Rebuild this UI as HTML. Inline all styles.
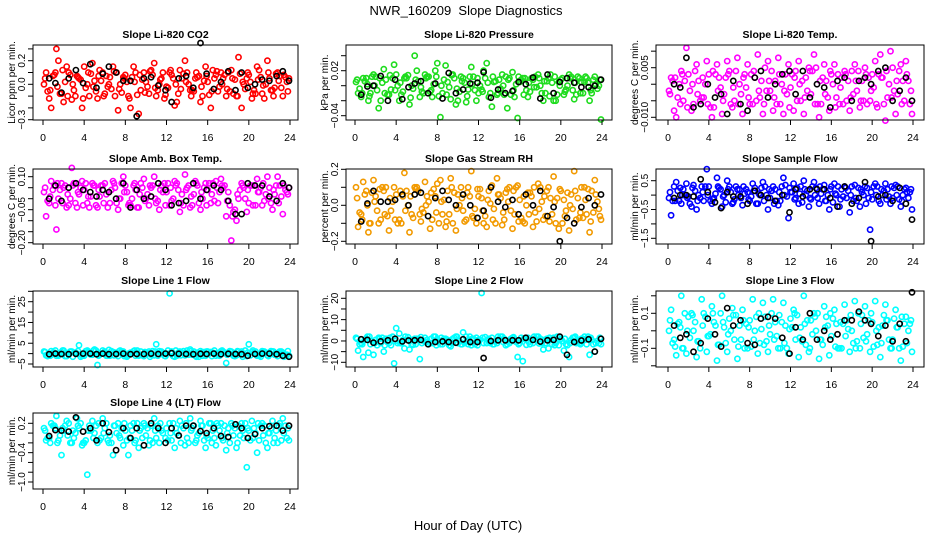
<!DOCTYPE html>
<html><head><meta charset="utf-8"><style>
html,body{margin:0;padding:0;background:#fff;}
svg{display:block;font-family:"Liberation Sans",sans-serif;}
</style></head><body>
<svg id="chart" width="936" height="540" viewBox="0 0 936 540" xmlns="http://www.w3.org/2000/svg">
<text x="466" y="15" text-anchor="middle" font-size="13" xml:space="preserve">NWR_160209  Slope Diagnostics</text>
<text x="468" y="530" text-anchor="middle" font-size="13">Hour of Day (UTC)</text>
</svg>
<script>
// shared hour-of-day sample times
const timesA = [0.1,0.6,1.1,1.5,2.0,2.5,3.0,3.5,4.0,4.5,5.0,5.5,6.0,6.5,7.0,7.5,8.0,8.5,9.0,9.5,10.0,10.5,11.0,11.5,12.0,12.5,13.0,13.5,14.0,14.5,15.0,15.5,16.0,16.5,17.0,17.5,18.0,18.5,19.0,19.5,20.0,20.5,21.0,21.5,22.0,22.5,23.0,23.7];
const timesB = [0.3,0.8,1.3,1.8,2.3,2.8,3.3,3.8,4.3,4.8,5.3,5.8,6.3,6.8,7.3,7.8,8.3,8.8,9.3,9.8,10.3,10.8,11.3,11.8,12.3,12.8,13.3,13.8,14.3,14.8,15.3,15.8,16.3,16.8,17.3,17.8,18.3,18.8,19.3,19.8,20.3,20.8,21.3,21.8,22.3,22.8,23.3,23.9];
const timesC = [0.2,0.7,1.2,1.65,2.15,2.65,3.15,3.65,4.15,4.65,5.15,5.65,6.15,6.65,7.15,7.65,8.15,8.65,9.15,9.65,10.15,10.65,11.15,11.65,12.15,12.65,13.15,13.65,14.15,14.65,15.15,15.65,16.15,16.65,17.15,17.65,18.15,18.65,19.15,19.65,20.15,20.65,21.15,21.65,22.15,22.65,23.15,23.55];
const timesD = [0.45,0.95,1.4,1.9,2.4,2.9,3.4,3.9,4.4,4.9,5.4,5.9,6.4,6.9,7.4,7.9,8.4,8.9,9.4,9.9,10.4,10.9,11.4,11.9,12.4,12.9,13.4,13.9,14.4,14.9,15.4,15.9,16.4,16.9,17.4,17.9,18.4,18.9,19.4,19.9,20.4,20.9,21.4,21.9,22.4,22.9,23.4,23.8];
const timesK = [0.6,1.2,1.8,2.5,3.2,3.9,4.6,5.2,5.8,6.4,7.1,7.8,8.5,9.1,9.8,10.5,11.2,11.9,12.5,13.2,13.9,14.6,15.3,15.9,16.6,17.3,18.0,18.7,19.3,19.9,20.6,21.3,22.0,22.7,23.3,23.9];
const xTicks = [0,4,8,12,16,20,24];

const co2A = [0.0,-0.12,0.08,0.2,-0.15,0.1,-0.05,0.05,0.15,-0.1,0.03,0.12,-0.08,0.06,-0.1,0.0,0.08,-0.2,0.1,-0.05,0.02,0.12,-0.1,0.05,-0.02,0.08,-0.15,0.05,0.1,-0.05,0.06,-0.1,0.02,0.12,-0.06,0.05,0.1,-0.08,0.23,0.0,0.08,-0.05,0.12,-0.12,0.05,-0.03,0.07,0.02];
const co2B = [0.1,-0.2,0.3,-0.08,0.15,-0.13,0.07,-0.2,0.0,0.18,-0.12,0.1,-0.02,0.15,-0.22,0.06,-0.1,0.15,-0.25,0.1,-0.08,0.18,0.0,-0.12,0.1,-0.18,0.12,0.2,-0.05,0.05,-0.15,0.15,-0.2,0.08,0.1,-0.1,0.12,-0.1,-0.2,0.05,-0.12,0.15,-0.08,0.2,-0.05,0.1,-0.1,0.05];
const co2C = [0.05,-0.05,0.1,-0.08,0.02,0.08,-0.1,0.04,-0.03,0.09,-0.06,0.03,0.07,-0.04,0.1,-0.07,0.02,0.06,-0.09,0.04,-0.02,0.08,-0.05,0.1,-0.03,0.05,-0.08,0.09,0.0,-0.06,0.07,0.03,-0.09,0.05,-0.02,0.08,-0.06,0.04,0.09,-0.04,0.02,-0.08,0.06,0.0,-0.05,0.09,-0.03,0.06];
const co2D = [-0.06,0.07,-0.02,0.12,-0.1,0.0,0.06,-0.12,0.1,-0.02,0.07,-0.1,0.0,0.11,-0.04,0.05,-0.12,0.02,0.08,-0.07,0.11,-0.03,0.04,-0.09,0.12,0.0,-0.04,0.02,-0.1,0.1,-0.02,0.07,-0.06,0.11,0.0,-0.04,0.05,-0.1,0.02,0.1,-0.08,0.04,-0.01,0.1,-0.1,0.03,0.08,-0.06];
const co2K = [0.05,0.01,-0.07,0.05,0.12,0.01,0.17,-0.03,0.09,0.15,0.1,0.03,0.03,-0.27,0.05,0.06,-0.01,-0.05,-0.15,0.05,0.07,-0.03,0.35,0.09,-0.04,0.02,0.11,-0.05,0.1,-0.03,0.0,0.04,0.03,0.07,0.11,0.03];

const presA = [0.005,-0.015,0.01,-0.01,0.012,-0.02,0.008,-0.005,0.015,-0.012,0.01,0.0,0.02,-0.008,0.012,-0.015,0.03,-0.01,0.005,0.015,-0.02,0.01,-0.005,0.012,-0.01,0.02,-0.015,0.005,0.008,-0.012,0.01,-0.015,0.005,0.01,-0.008,0.012,0.0,-0.01,0.015,-0.02,0.008,-0.005,0.012,-0.012,0.005,0.01,-0.01,0.0];
const presB = [-0.01,0.01,-0.02,0.015,-0.03,0.022,-0.012,0.028,-0.02,0.01,-0.025,0.04,-0.015,0.015,-0.008,0.02,-0.042,0.027,-0.018,-0.025,0.012,-0.022,0.025,-0.02,-0.005,0.03,-0.028,-0.012,0.015,-0.03,0.018,-0.043,0.01,-0.015,0.008,0.015,-0.02,0.01,-0.02,0.005,-0.012,0.015,-0.018,0.01,0.005,-0.02,0.012,-0.045];
const presC = [0.008,-0.01,0.002,0.012,-0.006,0.004,-0.012,0.01,0.0,-0.008,0.014,-0.004,0.006,-0.01,0.012,0.002,-0.014,0.008,-0.002,0.01,-0.008,0.004,0.012,-0.006,0.0,0.01,-0.01,0.006,-0.004,0.012,-0.012,0.002,0.008,-0.006,0.01,-0.002,-0.01,0.006,0.004,-0.012,0.01,0.0,-0.006,0.012,-0.01,0.004,0.008,-0.004];
const presD = [-0.004,0.006,-0.014,0.0,0.01,-0.01,0.014,-0.006,0.004,0.012,-0.016,0.008,-0.002,0.01,-0.006,0.012,0.0,-0.012,0.014,-0.004,0.006,-0.014,0.002,0.01,-0.008,0.004,0.012,-0.01,0.0,0.008,-0.006,0.012,-0.012,0.004,-0.002,0.01,0.006,-0.014,0.012,0.0,-0.008,0.01,0.004,-0.01,0.012,-0.006,0.002,0.008];
const presK = [-0.012,-0.001,0.0,0.013,-0.02,0.008,-0.018,-0.002,0.003,0.006,-0.01,0.003,-0.017,0.017,-0.01,-0.005,0.003,0.004,0.018,-0.016,-0.005,-0.01,-0.007,0.005,0.002,0.011,-0.017,0.015,-0.01,0.005,0.01,0.004,-0.002,-0.002,0.0,0.008];

const tempA = [-0.002,-0.008,0.0,-0.005,0.003,-0.006,0.001,-0.004,0.003,-0.007,0.002,-0.003,0.004,-0.005,0.0,0.003,-0.006,0.002,-0.004,0.005,-0.002,0.001,-0.006,0.003,-0.001,0.004,-0.005,0.002,-0.003,0.005,-0.006,0.001,0.003,-0.004,0.002,-0.005,0.004,-0.002,0.001,-0.006,0.003,-0.007,0.002,-0.004,0.005,-0.003,0.001,-0.006];
const tempB = [0.002,-0.01,0.004,0.011,-0.008,0.006,-0.004,0.007,-0.01,0.006,-0.009,0.007,-0.007,0.008,-0.009,0.006,-0.006,0.009,-0.009,0.007,-0.008,0.008,-0.009,0.006,-0.008,0.007,-0.009,0.005,0.009,-0.01,0.006,-0.008,0.006,-0.006,0.004,-0.008,0.006,-0.007,0.005,-0.005,0.007,0.009,-0.011,0.01,-0.009,0.006,0.007,-0.009];
const tempC = [-0.003,0.002,-0.006,0.001,-0.002,0.004,-0.005,0.0,-0.007,0.003,-0.001,0.002,-0.006,0.004,-0.003,-0.001,0.003,-0.005,0.001,-0.002,0.004,-0.006,0.0,-0.003,0.003,-0.005,0.001,-0.002,0.004,-0.006,0.002,-0.004,0.0,0.003,-0.006,0.001,-0.003,0.004,-0.005,0.002,-0.001,0.003,-0.006,0.0,-0.002,0.004,-0.005,0.001];
const tempD = [0.001,-0.004,0.003,-0.007,0.0,-0.003,0.002,-0.006,0.004,-0.002,-0.005,0.003,-0.001,-0.006,0.002,-0.004,0.004,-0.002,-0.006,0.001,-0.004,0.003,-0.002,-0.007,0.002,0.0,-0.004,0.004,-0.006,0.001,-0.003,0.004,-0.007,-0.001,0.003,-0.004,0.001,-0.005,0.003,-0.002,-0.006,0.002,0.004,-0.004,0.001,-0.006,0.003,-0.002];
const tempK = [0.0,-0.001,0.008,-0.007,-0.006,0.0,-0.004,-0.003,-0.009,0.001,-0.006,-0.008,0.002,0.004,-0.004,0.0,0.003,0.004,-0.003,0.004,-0.004,0.0,-0.001,-0.007,0.001,0.002,-0.005,0.001,0.002,0.0,0.004,0.005,-0.005,-0.002,0.002,-0.005];

const ambA = [0.03,-0.02,0.06,0.0,0.05,-0.03,0.07,0.02,0.04,-0.04,0.06,0.01,0.07,-0.02,0.05,0.0,0.06,-0.03,0.04,0.07,0.0,0.05,-0.02,0.06,0.03,-0.01,0.07,0.02,0.05,-0.03,0.06,0.0,0.04,0.07,-0.02,0.05,0.03,-0.06,0.0,0.05,-0.02,0.06,0.03,-0.01,0.05,0.02,0.06,0.03];
const ambB = [-0.08,0.08,-0.14,0.07,-0.04,0.14,-0.04,0.08,-0.02,0.07,-0.04,0.06,-0.04,0.08,-0.05,0.1,-0.03,0.06,-0.04,0.09,-0.03,0.1,-0.05,0.07,-0.03,0.08,-0.06,0.11,-0.04,0.08,-0.05,0.07,-0.02,0.08,0.09,-0.08,-0.19,-0.1,0.07,-0.06,0.06,0.09,-0.03,0.1,-0.05,0.1,-0.07,0.05];
const ambC = [0.05,0.01,-0.03,0.04,0.06,0.0,-0.02,0.05,0.07,0.01,-0.03,0.06,0.02,0.04,-0.02,0.07,0.03,0.0,-0.04,0.05,0.02,0.06,-0.01,0.03,0.07,0.0,0.04,-0.03,0.06,0.02,-0.02,0.05,0.07,-0.01,0.03,0.06,-0.03,-0.05,0.04,0.0,0.06,-0.03,0.05,0.02,-0.02,0.06,0.01,0.04];
const ambD = [-0.01,0.04,0.07,-0.02,0.02,0.06,0.03,-0.03,0.01,0.06,0.04,-0.02,0.03,0.07,0.0,0.03,-0.02,0.07,0.02,-0.01,0.06,0.0,0.04,-0.03,0.05,0.06,-0.02,0.04,0.01,0.07,0.03,-0.03,0.02,0.05,0.06,-0.01,-0.08,0.02,0.06,0.04,-0.03,0.03,0.07,0.0,0.04,-0.02,0.06,0.02];
const ambK = [0.0,0.06,-0.01,0.05,0.07,0.04,0.03,0.01,0.04,0.03,0.0,0.07,-0.04,0.04,0.0,0.01,0.07,0.04,-0.03,-0.02,-0.01,0.07,0.0,0.04,0.06,0.04,-0.01,-0.07,-0.07,0.07,0.06,0.06,0.01,-0.01,0.07,0.05];

const rhA = [0.1,-0.05,0.08,-0.1,0.05,-0.08,0.1,-0.03,0.06,-0.1,0.08,-0.05,0.1,-0.02,0.05,-0.08,0.12,-0.05,0.08,-0.1,0.06,-0.03,0.1,-0.07,0.05,-0.1,0.08,-0.02,0.06,-0.08,0.1,-0.05,0.03,-0.1,0.07,-0.04,0.1,-0.06,0.04,-0.1,0.08,-0.03,0.06,-0.08,0.1,-0.05,0.08,-0.02];
const rhB = [-0.12,0.13,-0.15,0.14,-0.1,0.08,-0.14,0.1,-0.08,0.18,-0.15,0.1,-0.05,0.13,-0.13,0.05,0.14,-0.12,0.15,-0.14,0.1,-0.08,0.19,-0.1,0.04,-0.12,0.11,0.15,-0.11,0.09,-0.13,0.11,-0.09,0.07,-0.12,0.12,-0.08,0.1,0.16,-0.13,0.03,-0.14,0.19,-0.07,0.1,-0.15,0.14,-0.08];
const rhC = [0.04,-0.08,0.0,0.07,-0.03,0.1,-0.06,0.02,-0.1,0.05,0.0,-0.07,0.08,-0.04,0.02,0.09,-0.1,0.03,-0.05,0.07,0.0,-0.09,0.05,-0.02,0.09,-0.06,0.01,-0.1,0.04,0.07,-0.03,0.1,-0.07,0.0,0.05,-0.09,0.02,0.08,-0.05,0.04,-0.1,0.07,-0.02,0.04,-0.07,0.09,-0.04,0.02];
const rhD = [-0.04,0.06,-0.1,0.02,0.09,-0.05,0.04,-0.08,0.08,-0.03,0.05,0.09,-0.09,0.0,0.07,-0.04,0.02,-0.09,0.1,-0.02,0.04,0.07,-0.06,0.09,-0.03,0.03,-0.08,0.06,-0.04,0.02,0.08,-0.09,0.05,-0.05,0.1,-0.02,0.05,-0.09,0.02,0.09,-0.06,0.0,0.08,-0.04,0.03,-0.09,0.06,-0.06];
const rhK = [-0.09,0.01,0.08,0.02,0.02,0.03,0.06,0.0,0.06,0.07,-0.06,0.04,0.08,0.03,0.0,0.06,0.0,-0.07,-0.03,0.1,0.02,-0.01,0.03,-0.05,0.06,0.0,0.08,-0.06,-0.01,-0.2,-0.07,-0.1,-0.01,0.04,0.0,0.06];

const flowA = [-0.1,0.3,-0.2,0.2,-0.05,0.35,0.0,-0.2,0.3,-0.1,0.25,0.0,0.3,-0.15,0.2,0.05,-0.2,0.25,0.0,0.3,-0.1,0.2,-0.2,0.35,0.1,-0.1,0.3,0.0,-0.15,0.25,0.05,-0.2,0.3,0.0,0.2,-0.1,0.3,-0.2,0.1,0.25,-0.15,0.3,0.0,0.2,-0.1,0.3,0.0,0.1];
const flowB = [-0.7,0.45,-0.3,0.4,-0.4,-0.5,0.3,0.9,-0.3,0.6,-0.4,0.5,-0.3,0.2,-0.35,0.1,0.4,-0.3,0.45,-0.5,0.3,-0.35,0.6,-0.8,0.4,-0.3,0.5,-0.4,0.45,-0.3,0.35,-0.5,0.4,-0.4,0.3,-0.6,0.35,-0.4,0.3,-1.2,0.4,-0.3,0.4,-0.3,0.35,-0.4,0.25,-0.5];
const flowC = [0.1,-0.2,0.25,0.0,-0.3,0.15,-0.1,0.3,-0.2,0.05,0.2,-0.25,0.1,0.3,-0.1,0.2,-0.05,-0.3,0.25,0.0,0.15,-0.2,0.3,-0.05,0.1,0.25,-0.25,0.15,0.3,-0.1,0.2,0.0,-0.25,0.3,-0.05,0.15,-0.2,0.25,0.0,-0.1,0.3,-0.2,0.15,-0.05,0.25,-0.15,0.2,-0.1];
const flowD = [-0.2,0.15,0.0,-0.1,0.25,-0.2,0.1,0.0,-0.15,0.3,-0.05,0.2,-0.25,0.0,0.3,-0.15,0.15,0.05,-0.2,0.2,-0.3,0.1,0.0,0.25,-0.15,0.05,0.2,-0.1,0.0,0.3,-0.2,0.2,0.05,-0.15,0.25,0.0,-0.1,0.2,-0.3,0.1,0.0,0.2,-0.15,0.3,0.0,-0.2,0.1,0.2];
const flowK = [-0.1,0.0,0.0,-0.05,0.55,0.1,-0.25,-0.45,0.1,-0.05,-0.05,-0.3,0.15,0.0,-0.1,-0.2,0.0,-0.6,0.2,-0.05,0.2,0.2,0.2,-0.1,-0.4,0.3,-0.3,-0.1,0.45,-1.6,-0.05,0.0,-0.2,0.25,-0.3,-0.85];

const l1A = [1,-0.5,0.5,-1,1.5,-0.5,0.5,4,-1,0.5,2,-0.5,1,-1,0.5,1.5,-0.5,0.5,-1,1,0.5,-0.5,4.5,1,0,1,-1,0.5,1.5,-0.5,0.5,-1,1,0.5,-0.5,1,0.5,-1,1,-0.5,4.5,0.5,-1,1,0.5,-0.5,1,-0.5];
const l1B = [-0.8,1.2,-1,0.8,-1.2,1,0,-1,1.5,-0.5,-5.5,1.5,-1,0.8,-1.2,1,-0.8,1.2,-1,-1.2,1,-0.8,1.2,-1,29,-1.5,1,-0.8,2,-1,1.2,-1,0.8,-1,1.2,-4.5,1,-0.8,1,-1.2,0.8,-1,1.2,-0.8,1,-1.2,0.5,-1];
const l1C = [0.8,-1,1.5,0,-1.2,1,0.5,-1.5,1.2,-0.5,1.5,0,-1,1.2,-0.3,1,-1.5,0.5,1.5,-0.8,0.3,1.2,-1,0,1.5,-1.2,0.5,1.2,-0.5,1,-1.5,0.8,0,1.5,-1,0.5,1.2,-1.2,0.3,1.5,-0.8,1,-1.5,0.5,1.2,-0.3,1,-1.2];
const l1D = [-1.2,0.5,-0.3,1.5,0.2,-1.5,1.2,-0.5,0.8,1.5,-1,0.5,1.8,-0.8,1.2,-1.2,0.2,1.5,-0.5,0.8,-1.5,1,0.5,-1.2,0.2,1.5,-0.8,0.3,1.2,-1.5,0.5,1,-1.2,0.2,1.5,-0.5,-0.2,1.2,-1.5,0.5,1.5,-0.5,0.8,-1.2,1,0.3,-1.5,1.2];
const l1K = [-0.3,0,-0.2,-0.3,-0.1,0,0,-0.3,0,-0.3,-0.2,0,-0.3,-0.2,-0.2,0,-0.2,0,0.2,-0.1,-0.2,-0.3,-0.1,-0.2,0,-0.3,-0.1,-0.2,-0.3,-1,-0.2,0,0,-0.3,-1,-1.5];

const l2A = [1.5,-1,1,-1.5,0.5,-1,1,-2,6,-1,0.5,-1.5,1,-1,0.5,-1,1,-1.5,0.5,1,-1,4,-1.5,1,0.5,-1,1,-1.5,0.5,1,-1,0.5,-1,1,-1.5,0.5,1,-1,0.5,-1,1,-1.5,0.5,-1,1,-1.5,0.5,-1];
const l2B = [-4.5,-7.5,-5.5,-6.5,1.5,-5,-1,-10.5,3.5,-3.5,-4,1,-8.5,1.5,-1,2,-1.5,1,-2.5,2,-1.5,2,-2,1.5,22.5,-1,1.5,-1,2,-1.5,1.5,-7.5,-9.5,1.5,-1,2,-4,-3.5,1.5,-2,-4.5,-7.5,1.5,-1,2,-6.5,-5,-1.5];
const l2C = [1,-1.5,2,0,-2,1.5,-0.5,2,-1,0.5,1.8,-1.8,1,0,-1.5,2,-0.5,1,-2,1.5,0,-1,2,-1.5,0.5,1.8,-1,0,2,-2,1,-0.5,1.5,-1.8,0.5,2,-1,1,-1.5,2,0,-2,1.5,-0.5,1,2,-1.5,0];
const l2D = [-1.5,0.5,2,-1,1,-2,1.5,0,-1,2,0.5,-1.5,1.8,-0.5,1,-2,1.5,0.5,-1,2,-1.5,0,1,-2,1.5,0.5,-1.5,2,-0.5,0,1.8,-1.5,1,-0.5,2,-1.2,0.5,1.5,-2,0.5,1,-1,2,-1.5,0.5,1.5,-1,1.5];
const l2K = [0.8,0.5,-0.8,-0.2,0.3,1,-0.2,0.2,0.3,0.5,-1.5,-0.5,-0.2,-0.5,-0.8,0.8,-0.5,-0.5,-8,0,0.3,0.3,0.3,0.3,1.5,0.5,-0.3,0.3,0.5,2,-6.5,-0.5,0.2,0.8,-5,1];

const l3A = [0.0,-0.05,0.05,-0.1,0.08,0.0,-0.06,0.1,-0.03,0.05,-0.08,0.02,0.07,-0.05,0.03,-0.1,0.06,0.0,-0.07,0.08,-0.02,0.05,-0.1,0.03,0.07,-0.05,0.02,-0.08,0.06,0.0,-0.05,0.08,-0.03,0.04,-0.1,0.06,0.0,-0.06,0.09,-0.02,0.05,-0.08,0.03,0.06,-0.05,0.02,-0.09,0.04];
const l3B = [0.12,-0.14,0.2,-0.13,0.1,-0.15,0.18,-0.12,0.14,-0.17,0.2,-0.12,0.13,-0.16,0.12,-0.1,0.18,-0.13,0.16,-0.12,0.18,-0.1,0.16,-0.13,0.12,-0.15,0.2,-0.12,0.1,-0.16,0.14,-0.14,0.12,-0.1,0.15,-0.12,0.17,-0.1,0.14,-0.12,0.17,-0.15,0.15,-0.1,0.12,-0.17,0.08,-0.12];
const l3C = [0.06,-0.09,0.02,0.1,-0.04,0.05,-0.1,0.08,-0.02,0.03,0.1,-0.07,0.0,0.09,-0.05,0.04,-0.09,0.08,0.01,-0.06,0.1,-0.03,0.05,-0.1,0.02,0.09,-0.06,0.06,-0.02,0.1,-0.08,0.03,0.07,-0.1,0.04,0.01,-0.07,0.1,-0.04,0.06,-0.09,0.02,0.09,-0.05,0.07,-0.1,0.04,0.0];
const l3D = [-0.07,0.04,-0.1,0.0,0.09,-0.06,0.03,-0.03,0.1,-0.08,0.05,-0.02,0.09,-0.09,0.06,0.02,-0.05,0.1,-0.08,0.03,-0.05,0.09,-0.07,0.01,0.1,-0.04,0.04,-0.1,0.08,-0.05,0.02,0.1,-0.09,0.05,-0.03,0.09,-0.1,0.04,-0.06,0.1,0.0,-0.07,0.06,-0.1,0.02,0.08,-0.07,0.06];
const l3K = [0.03,-0.04,-0.02,-0.12,-0.07,0.07,-0.02,-0.09,0.13,0.03,0.06,-0.07,-0.08,0.07,0.08,0.07,-0.04,-0.13,0.02,-0.05,0.1,-0.05,0.0,-0.05,-0.02,0.06,0.06,0.11,0.06,0.04,-0.03,0.03,-0.06,0.04,-0.06,0.22];

const l4A = [0.1,-0.1,0.15,-0.15,0.05,0.2,-0.1,0.1,-0.2,0.15,0.0,-0.15,0.1,-0.05,0.15,-0.1,0.05,0.15,-0.15,0.1,-0.05,0.15,-0.1,0.05,0.1,-0.15,0.0,0.15,-0.1,0.1,-0.05,0.15,-0.1,0.05,0.15,-0.15,0.1,-0.05,0.15,-0.1,0.05,0.1,-0.15,0.15,0.0,-0.1,0.2,-0.1];
const l4B = [-0.15,0.2,0.35,-0.45,0.25,-0.2,0.3,-0.25,-0.85,0.25,-0.2,0.3,-0.15,-0.45,0.2,-0.25,-0.45,0.2,-0.3,0.2,-0.25,0.3,-0.2,-1.2,0.2,-0.3,0.25,-0.25,0.3,-0.2,0.25,-0.3,0.2,-0.25,0.2,-0.35,0.2,-0.3,0.2,-0.7,0.25,-0.4,0.2,-0.3,0.25,-0.2,0.3,-0.15];
const l4C = [0.05,-0.2,0.1,-0.05,0.15,-0.2,0.0,0.2,-0.15,0.05,0.15,-0.1,0.2,-0.2,0.0,0.1,-0.15,0.05,0.2,-0.1,0.1,-0.2,0.15,0.0,-0.15,0.2,-0.05,0.1,-0.2,0.15,0.0,-0.15,0.2,-0.1,0.05,0.15,-0.2,0.1,-0.05,0.2,-0.15,0.0,0.15,-0.2,0.1,0.05,-0.15,0.15];
const l4D = [-0.1,0.15,-0.2,0.1,-0.05,0.05,0.15,-0.2,0.05,-0.1,0.2,0.0,-0.2,0.15,-0.05,0.2,-0.1,-0.2,0.05,0.15,-0.15,0.05,0.2,-0.1,0.0,0.1,-0.2,0.2,0.05,-0.15,0.15,-0.05,-0.2,0.2,-0.1,0.0,0.15,-0.2,0.05,0.1,-0.1,0.2,-0.05,0.0,-0.2,0.15,0.0,0.1];
const l4K = [-0.06,0.06,0.05,0.03,0.32,0.03,0.1,-0.15,0.2,0.02,-0.35,0.1,-0.1,0.1,-0.25,0.2,0.1,-0.2,0.1,-0.05,0.15,0.15,0.04,0.0,0.1,-0.06,-0.08,0.18,0.1,-0.1,-0.02,0.1,0.14,0.15,0.05,0.15];

// tick values and labels per panel
const co2Ticks = [-0.3,-0.2,-0.1,0,0.1,0.2,0.3];
const co2Labels = ["−0.3","","","0.0","","0.2",""];
const presTicks = [-0.04,-0.02,0,0.02,0.04];
const presLabels = ["−0.04","","","0.02",""];
const tempTicks = [-0.01,-0.005,0,0.005,0.01];
const tempLabels = ["−0.010","","","0.005",""];
const ambTicks = [-0.2,-0.15,-0.1,-0.05,0,0.05,0.1];
const ambLabels = ["−0.20","","","−0.05","","","0.10"];
const rhTicks = [-0.2,-0.1,0,0.1,0.2];
const rhLabels = ["−0.2","","0.0","","0.2"];
const flowTicks = [-1.5,-1,-0.5,0,0.5];
const flowLabels = ["−1.5","","−0.5","","0.5"];
const l1Ticks = [-5,0,5,10,15,20,25,30];
const l1Labels = ["−5","","5","","15","","25",""];
const l2Ticks = [-10,-5,0,5,10,15,20];
const l2Labels = ["−10","","0","","10","","20"];
const l3Ticks = [-0.2,-0.1,0,0.1,0.2];
const l3Labels = ["","−0.1","","0.1",""];
const l4Ticks = [-1,-0.8,-0.6,-0.4,-0.2,0,0.2];
const l4Labels = ["−1.0","","","−0.4","","","0.2"];

const cols = [{bx0:33,bx1:298,h0:43,h24:290},{bx0:346,bx1:612,h0:355,h24:602},{bx0:656,bx1:924,h0:668,h24:913}];
const rows = [{top:45,bot:120},{top:169,bot:244},{top:291,bot:367},{top:413,bot:489}];

const panels = [
 {name:"co2",title:"Slope Li-820 CO2",ylab:"Licor ppm per min.",c:0,r:0,color:"#ff0000",ref:[0.2,60.7,0,84.3],ticks:co2Ticks,labels:co2Labels,A:co2A,B:co2B,C:co2C,D:co2D,K:co2K},
 {name:"pressure",title:"Slope Li-820 Pressure",ylab:"kPa per min.",c:1,r:0,color:"#1edc1e",ref:[0.02,70.7,-0.04,115.7],ticks:presTicks,labels:presLabels,A:presA,B:presB,C:presC,D:presD,K:presK},
 {name:"temp",title:"Slope Li-820 Temp.",ylab:"degrees C per min.",c:2,r:0,color:"#ff00ff",ref:[0.005,67.7,-0.01,117.3],ticks:tempTicks,labels:tempLabels,A:tempA,B:tempB,C:tempC,D:tempD,K:tempK},
 {name:"amb-box-temp",title:"Slope Amb. Box Temp.",ylab:"degrees C per min.",c:0,r:1,color:"#ff00ff",ref:[0.1,176.7,-0.2,242.7],ticks:ambTicks,labels:ambLabels,A:ambA,B:ambB,C:ambC,D:ambD,K:ambK},
 {name:"gas-stream-rh",title:"Slope Gas Stream RH",ylab:"percent per min.",c:1,r:1,color:"#f29a00",ref:[0.2,169.3,-0.2,241.3],ticks:rhTicks,labels:rhLabels,A:rhA,B:rhB,C:rhC,D:rhD,K:rhK},
 {name:"sample-flow",title:"Slope Sample Flow",ylab:"ml/min per min.",c:2,r:1,color:"#0000ff",ref:[0.5,180.7,-1.5,238.3],ticks:flowTicks,labels:flowLabels,A:flowA,B:flowB,C:flowC,D:flowD,K:flowK},
 {name:"line1-flow",title:"Slope Line 1 Flow",ylab:"ml/min per min.",c:0,r:2,color:"#00ffff",ref:[25,301.7,-5,364],ticks:l1Ticks,labels:l1Labels,A:l1A,B:l1B,C:l1C,D:l1D,K:l1K},
 {name:"line2-flow",title:"Slope Line 2 Flow",ylab:"ml/min per min.",c:1,r:2,color:"#00ffff",ref:[20,298.3,-10,362.3],ticks:l2Ticks,labels:l2Labels,A:l2A,B:l2B,C:l2C,D:l2D,K:l2K},
 {name:"line3-flow",title:"Slope Line 3 Flow",ylab:"ml/min per min.",c:2,r:2,color:"#00ffff",ref:[0.1,313.3,-0.1,348.3],ticks:l3Ticks,labels:l3Labels,A:l3A,B:l3B,C:l3C,D:l3D,K:l3K},
 {name:"line4-flow",title:"Slope Line 4 (LT) Flow",ylab:"ml/min per min.",c:0,r:3,color:"#00ffff",ref:[0.2,423.3,-1.0,482],ticks:l4Ticks,labels:l4Labels,A:l4A,B:l4B,C:l4C,D:l4D,K:l4K}
];

const NS = "http://www.w3.org/2000/svg";
const svg = document.getElementById("chart");
function mk(tag, attrs, parent){
  const e = document.createElementNS(NS, tag);
  for (const k in attrs) e.setAttribute(k, attrs[k]);
  parent.appendChild(e);
  return e;
}

panels.forEach(p => {
  const col = cols[p.c], row = rows[p.r];
  const xs = h => col.h0 + h * (col.h24 - col.h0) / 24;
  const ys = v => p.ref[1] + (v - p.ref[0]) * (p.ref[3] - p.ref[1]) / (p.ref[2] - p.ref[0]);
  const g = mk("g", {}, svg);
  
  

  const t = mk("text", {x:(col.bx0+col.bx1)/2, y:row.top-7, "text-anchor":"middle", "font-size":"10.5", "font-weight":"bold"}, g);
  t.textContent = p.title;
  
  

  const yl = mk("text", {transform:`translate(${col.bx0-18},${(row.top+row.bot)/2}) rotate(-90)`, "text-anchor":"middle", "font-size":"10"}, g);
  yl.textContent = p.ylab;
  
  

  const pts = mk("g", {fill:"none", "stroke-width":"1.6"}, g);
  
  
  const drawPt = (h, v, color) => {
    const cy = ys(v);
    if (cy < row.top - 2 || cy > row.bot + 2) return;
    const c = mk("circle", {cx:xs(h).toFixed(1), cy:cy.toFixed(1), r:"2.6", stroke:color}, pts);
    
    
  };
  p.A.forEach((v,i) => drawPt(timesA[i], v, p.color));
  p.B.forEach((v,i) => drawPt(timesB[i], v, p.color));
  p.C.forEach((v,i) => drawPt(timesC[i], v, p.color));
  p.D.forEach((v,i) => drawPt(timesD[i], v, p.color));
  p.K.forEach((v,i) => drawPt(timesK[i], v, "#000"));

  const box = mk("rect", {x:col.bx0, y:row.top, width:col.bx1-col.bx0, height:row.bot-row.top, fill:"none", stroke:"#000", "stroke-width":"1"}, g);
  
  

  const yax = mk("g", {}, g);
  
  
  p.ticks.forEach((v,i) => {
    const y = ys(v);
    if (y < row.top - 1 || y > row.bot + 1) return;
    mk("line", {x1:col.bx0-5, x2:col.bx0, y1:y, y2:y, stroke:"#000"}, yax);
    if (p.labels[i]) {
      const tl = mk("text", {transform:`translate(${col.bx0-8},${y}) rotate(-90)`, "text-anchor":"middle", "font-size":"10"}, yax);
      tl.textContent = p.labels[i];
      
      
    }
  });

  const xax = mk("g", {}, g);
  
  
  xTicks.forEach(h => {
    const x = xs(h);
    mk("line", {x1:x, x2:x, y1:row.bot, y2:row.bot+5, stroke:"#000"}, xax);
    const tl = mk("text", {x:x, y:row.bot+21, "text-anchor":"middle", "font-size":"10.5"}, xax);
    tl.textContent = String(h);
    
    
  });
});
</script>
</body></html>
